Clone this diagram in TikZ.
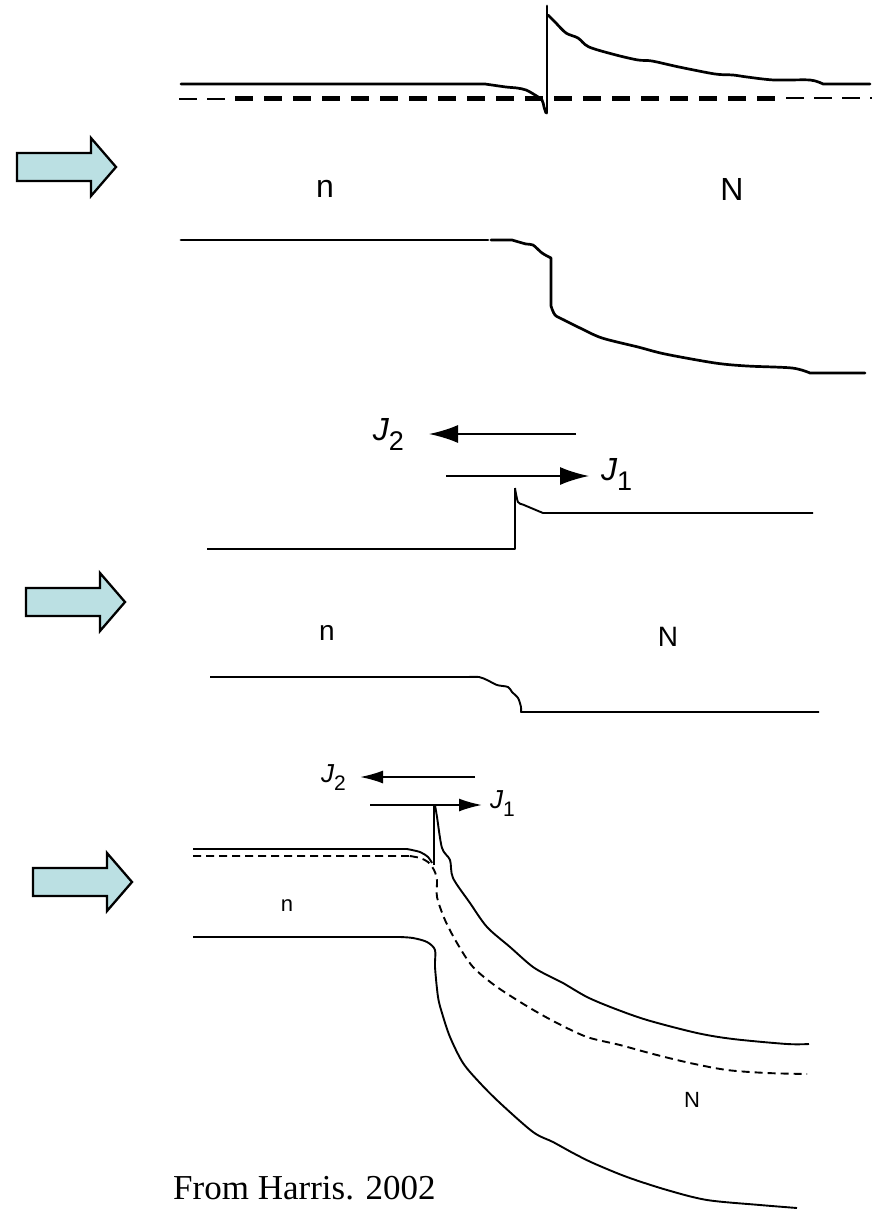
\documentclass[tikz,border=0pt]{standalone}
\usepackage{fontspec}
\setmainfont{Liberation Sans}
\newfontfamily\serifft{Liberation Serif}
\usetikzlibrary{arrows.meta}
\definecolor{arrowfill}{RGB}{187,224,227}
\tikzset{
  band/.style={line width=2.7pt, line join=round, line cap=round},
  midband/.style={line width=1.9pt, line join=round},
  lowband/.style={line width=1.9pt, line join=round},
  bigdash/.style={line width=5pt, dash pattern=on 18pt off 11pt},
  thindash/.style={line width=2.5pt, dash pattern=on 18pt off 10pt},
  lowdash/.style={line width=1.9pt, dash pattern=on 8pt off 5pt},
  fluxbig/.style={line width=1.9pt, -{Latex[length=29pt,width=18pt]}},
  fluxsmall/.style={line width=1.8pt, -{Latex[length=23pt,width=13pt]}},
  barrow/.pic={\draw[fill=arrowfill, draw=black, line width=2.3pt, line join=miter]
     (0,-14)--(74,-14)--(74,-29)--(99,0)--(74,29)--(74,14)--(0,14)--cycle;},
  lbl/.style={inner sep=0pt, font=\fontsize{#1}{#1}\selectfont}
}
\newcommand{\Jsub}[3]{{\itshape J}\raisebox{-#3pt}{\fontsize{#2}{#2}\selectfont #1}}
\begin{document}
\begin{tikzpicture}[x=1pt,y=-1pt]
\useasboundingbox (0,0) rectangle (881,1209);
% ---------- block arrows
\pic at (17,167) {barrow};
\pic at (26,602) {barrow};
\pic at (33,882) {barrow};
% ---------- panel 1
\draw[band] (181,84) -- (485,84) plot[smooth,tension=0.5] coordinates {(485,84) (506,87) (517,88) (526,90) (535,95) (542,100) (544,107) (546,113)};
\draw[band] (547,6) -- (547,113);
\draw[band] plot[smooth,tension=0.5] coordinates {(548,15) (555,22) (566,33) (578,38) (589,47) (616,55) (638,60) (652,61) (679,67) (715,74) (733,75) (747,77) (774,80) (810,80) (823,84)} -- (870,84);
\draw[thindash] (179,99) -- (226,99);
\draw[bigdash] (235,99) -- (782,99);
\draw[thindash] (786,98) -- (872,98);
\node[lbl=32] (n1) at (325,189) {n};
\node[lbl=32] (N1) at (732,189) {N};
\draw[band] (181,240) -- (488,240);
\draw[band] (491,240) -- (512,240) plot[smooth,tension=0.5] coordinates {(512,240) (526,244) (533,245) (542,253) (551,258)} -- (551,306)
  plot[smooth,tension=0.5] coordinates {(551,306) (555,315) (564,320) (580,328) (602,338) (638,347) (665,354) (715,363) (747,366) (792,368) (810,373)} -- (865,373);
% ---------- panel 2
\coordinate (j2s) at (576,434); \coordinate (j2e) at (429,434);
\coordinate (j1s) at (446,476); \coordinate (j1e) at (589,476);
\draw[fluxbig] (j2s) -- (j2e);
\draw[fluxbig] (j1s) -- (j1e);
\node[lbl=32, anchor=east] (J2a) at (404,434) {\Jsub{2}{27}{10}};
\node[lbl=32, anchor=west] (J1a) at (601,474) {\Jsub{1}{27}{10}};
\draw[midband] (207,549) -- (515,549) -- (515,488) plot[smooth,tension=0.5] coordinates {(515,488) (518,502) (524,505) (543,513)} -- (813,513);
\node[lbl=28] (n2) at (327,633) {n};
\node[lbl=28] (N2) at (668,637) {N};
\draw[midband] (210,677) -- (468,677) plot[smooth,tension=0.5] coordinates {(468,677) (479,677) (487,680) (497,685) (508,687) (512,692) (518,698) (521,707) (521,712)} -- (819,712);
% ---------- panel 3
\coordinate (k2s) at (475,777); \coordinate (k2e) at (360,777);
\coordinate (k1s) at (370,805); \coordinate (k1e) at (482,805);
\draw[fluxsmall] (k2s) -- (k2e);
\draw[fluxsmall] (k1s) -- (k1e);
\node[lbl=26, anchor=east] (J2b) at (346,778) {\Jsub{2}{21}{8}};
\node[lbl=26, anchor=west] (J1b) at (490,804) {\Jsub{1}{21}{8}};
\draw[lowband] (193,849) -- (407,849) plot[smooth,tension=0.5] coordinates {(407,849) (420,852) (428,857) (432,863)};
\draw[lowband] (434,805) -- (434,865);
\draw[lowband] plot[smooth,tension=0.5] coordinates {(435,805) (437,817) (442,848) (450,860) (453,878) (470,903) (487,927) (510,947) (533,967) (553,978) (563,983) (587,997) (613,1008) (647,1020) (697,1033) (733,1039) (787,1044) (809,1044)};
\draw[lowdash] (193,856) -- (410,856) plot[smooth,tension=0.5] coordinates {(410,856) (420,858) (428,862) (434,870) (437,880) (437,897) (445,920) (457,943) (473,967) (497,987) (530,1008) (557,1023) (587,1037) (620,1045) (653,1054) (690,1063) (727,1070) (767,1073) (807,1074)};
\draw[lowband] (193,937) -- (400,937) plot[smooth,tension=0.5] coordinates {(400,937) (413,938) (427,942) (435,950) (435,967) (438,997) (442,1013) (450,1037) (463,1063) (480,1083) (500,1103) (533,1132) (553,1142) (573,1153) (593,1163) (627,1177) (667,1190) (707,1200) (760,1205) (797,1208)};
\node[lbl=22] (n3) at (287,906) {n};
\node[lbl=22] (N3) at (692,1100) {N};
% ---------- source
\node[inner sep=0pt, anchor=base west, font=\serifft\fontsize{35}{35}\selectfont] (src) at (173,1199) {From Harris. 2002};
\end{tikzpicture}
\end{document}
